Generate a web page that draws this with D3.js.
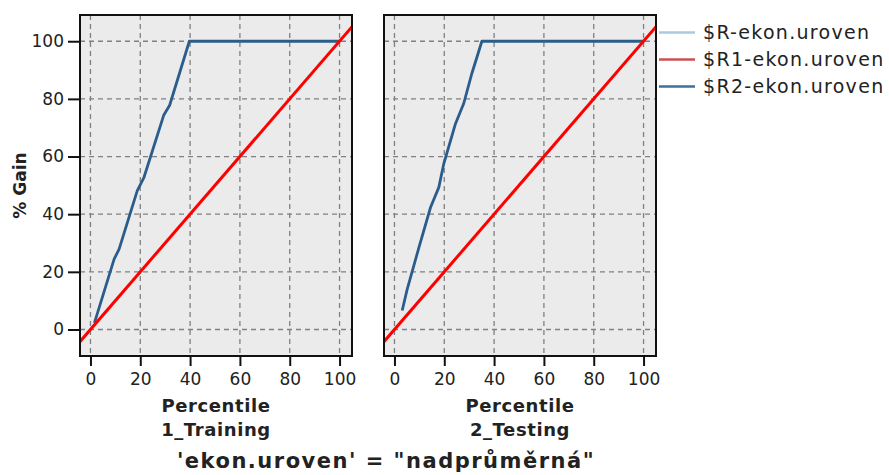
<!DOCTYPE html>
<html>
<head>
<meta charset="utf-8">
<script src="https://cdn.jsdelivr.net/npm/d3@7"></script>
<style>
  body { margin: 0; background: #fff; }
  text { font-family: "DejaVu Sans", Verdana, sans-serif; fill: #222; }
  .grid line { stroke: #808080; stroke-dasharray: 5,4; stroke-width: 1.3; }
  .axis path { display: none; }
  .axis line { stroke: #111; stroke-width: 2; }
  .axis text { font-size: 17px; }
</style>
</head>
<body>
<div id="chart"></div>
<script>
// gain curves (percentile, % gain)
const trainX = [1.6, 9.5, 11.5, 18.8, 21.5, 29.4, 31.8, 39.7, 100];
const trainY = [2.3, 24.4, 27.9, 48.2, 52.8, 74.3, 77.8, 100, 100];
const testX = [3.1, 5.1, 9.8, 14.5, 17.8, 19.8, 24.5, 27.8, 31.1, 35.1, 100];
const testY = [6.6, 13.9, 28.4, 42.4, 49.3, 57.5, 71.4, 78.4, 88.9, 100, 100];
// baseline y = x, runs past the plot edges
const baseX = [-10, 110];
const baseY = [-10, 110];

const panels = ["1_Training", "2_Testing"];
const xTicks = [0, 20, 40, 60, 80, 100];
const yTicks = [0, 20, 40, 60, 80, 100];
const seriesNames = ["$R-ekon.uroven", "$R1-ekon.uroven", "$R2-ekon.uroven"];
const legendColors = ["#a9cbe2", "#c85050", "#3f6f9c"];

const W = 889, H = 475;
const plotTop = 15, plotBottom = 356;
const panelW = 272;
const panelLeft = [80, 384];

const svg = d3.select("#chart").append("svg")
  .attr("width", W)
  .attr("height", H);

const y = d3.scaleLinear().domain([-9.2, 109.1]).range([plotBottom, plotTop]);

const line = d3.line().x(d => d[0]).y(d => d[1]);

const curves = [
  {base: d3.zip(baseX, baseY), gain: d3.zip(trainX, trainY)},
  {base: d3.zip(baseX, baseY), gain: d3.zip(testX, testY)}
];

panels.forEach((name, i) => {
  const x = d3.scaleLinear().domain([-4.2, 105]).range([panelLeft[i], panelLeft[i] + panelW]);
  const g = svg.append("g");

  g.append("clipPath").attr("id", "clip" + i)
    .append("rect")
    .attr("x", panelLeft[i]).attr("y", plotTop)
    .attr("width", panelW).attr("height", plotBottom - plotTop);

  g.append("rect")
    .attr("x", panelLeft[i]).attr("y", plotTop)
    .attr("width", panelW).attr("height", plotBottom - plotTop)
    .attr("fill", "#ebebeb");

  // grid
  g.append("g").attr("class", "grid")
    .selectAll("line").data(xTicks).join("line")
    .attr("x1", d => x(d)).attr("x2", d => x(d))
    .attr("y1", plotTop).attr("y2", plotBottom);
  g.append("g").attr("class", "grid")
    .selectAll("line").data(yTicks).join("line")
    .attr("y1", d => y(d)).attr("y2", d => y(d))
    .attr("x1", panelLeft[i]).attr("x2", panelLeft[i] + panelW);

  const plot = g.append("g").attr("clip-path", `url(#clip${i})`);

  plot.append("path")
    .datum(curves[i].gain.map(d => [x(d[0]), y(d[1])]))
    .attr("d", line)
    .attr("fill", "none")
    .attr("stroke", "#2b5d8c")
    .attr("stroke-width", 2.8)
    .attr("stroke-linejoin", "round");

  plot.append("path")
    .datum(curves[i].base.map(d => [x(d[0]), y(d[1])]))
    .attr("d", line)
    .attr("fill", "none")
    .attr("stroke", "#ff0000")
    .attr("stroke-width", 3);

  g.append("rect")
    .attr("x", panelLeft[i]).attr("y", plotTop)
    .attr("width", panelW).attr("height", plotBottom - plotTop)
    .attr("fill", "none")
    .attr("stroke", "#111")
    .attr("stroke-width", 2);

  g.append("g").attr("class", "axis")
    .attr("transform", `translate(0,${plotBottom})`)
    .call(d3.axisBottom(x).tickValues(xTicks).tickSize(10).tickPadding(7));

  g.append("text")
    .attr("x", panelLeft[i] + panelW / 2)
    .attr("y", 412)
    .attr("text-anchor", "middle")
    .attr("font-size", 18)
    .attr("letter-spacing", 0.6)
    .attr("font-weight", "bold")
    .text("Percentile");

  g.append("text")
    .attr("x", panelLeft[i] + panelW / 2)
    .attr("y", 436)
    .attr("text-anchor", "middle")
    .attr("font-size", 18)
    .attr("letter-spacing", 0.6)
    .attr("font-weight", "bold")
    .text(name);
});

svg.append("g").attr("class", "axis")
  .attr("transform", `translate(${panelLeft[0]},0)`)
  .call(d3.axisLeft(y).tickValues(yTicks).tickSize(12).tickPadding(4));

svg.append("text")
  .attr("transform", `translate(26,${(plotTop + plotBottom) / 2}) rotate(-90)`)
  .attr("text-anchor", "middle")
  .attr("font-size", 17)
  .attr("font-weight", "bold")
  .text("% Gain");

svg.append("text")
  .attr("x", 386)
  .attr("y", 468)
  .attr("text-anchor", "middle")
  .attr("font-size", 21)
  .attr("letter-spacing", 1.5)
  .attr("font-weight", "bold")
  .text("'ekon.uroven' = \"nadprůměrná\"");

// legend
const legend = svg.append("g").selectAll("g").data(seriesNames).join("g")
  .attr("transform", (d, i) => `translate(659,${32.5 + i * 27})`);
legend.append("line")
  .attr("x1", 0).attr("x2", 36)
  .attr("stroke", (d, i) => legendColors[i])
  .attr("stroke-width", 2.5);
legend.append("text")
  .attr("x", 44)
  .attr("dy", "0.35em")
  .attr("font-size", 19)
  .attr("letter-spacing", 1.3)
  .attr("fill", "#333")
  .text(d => d);
</script>
</body>
</html>
